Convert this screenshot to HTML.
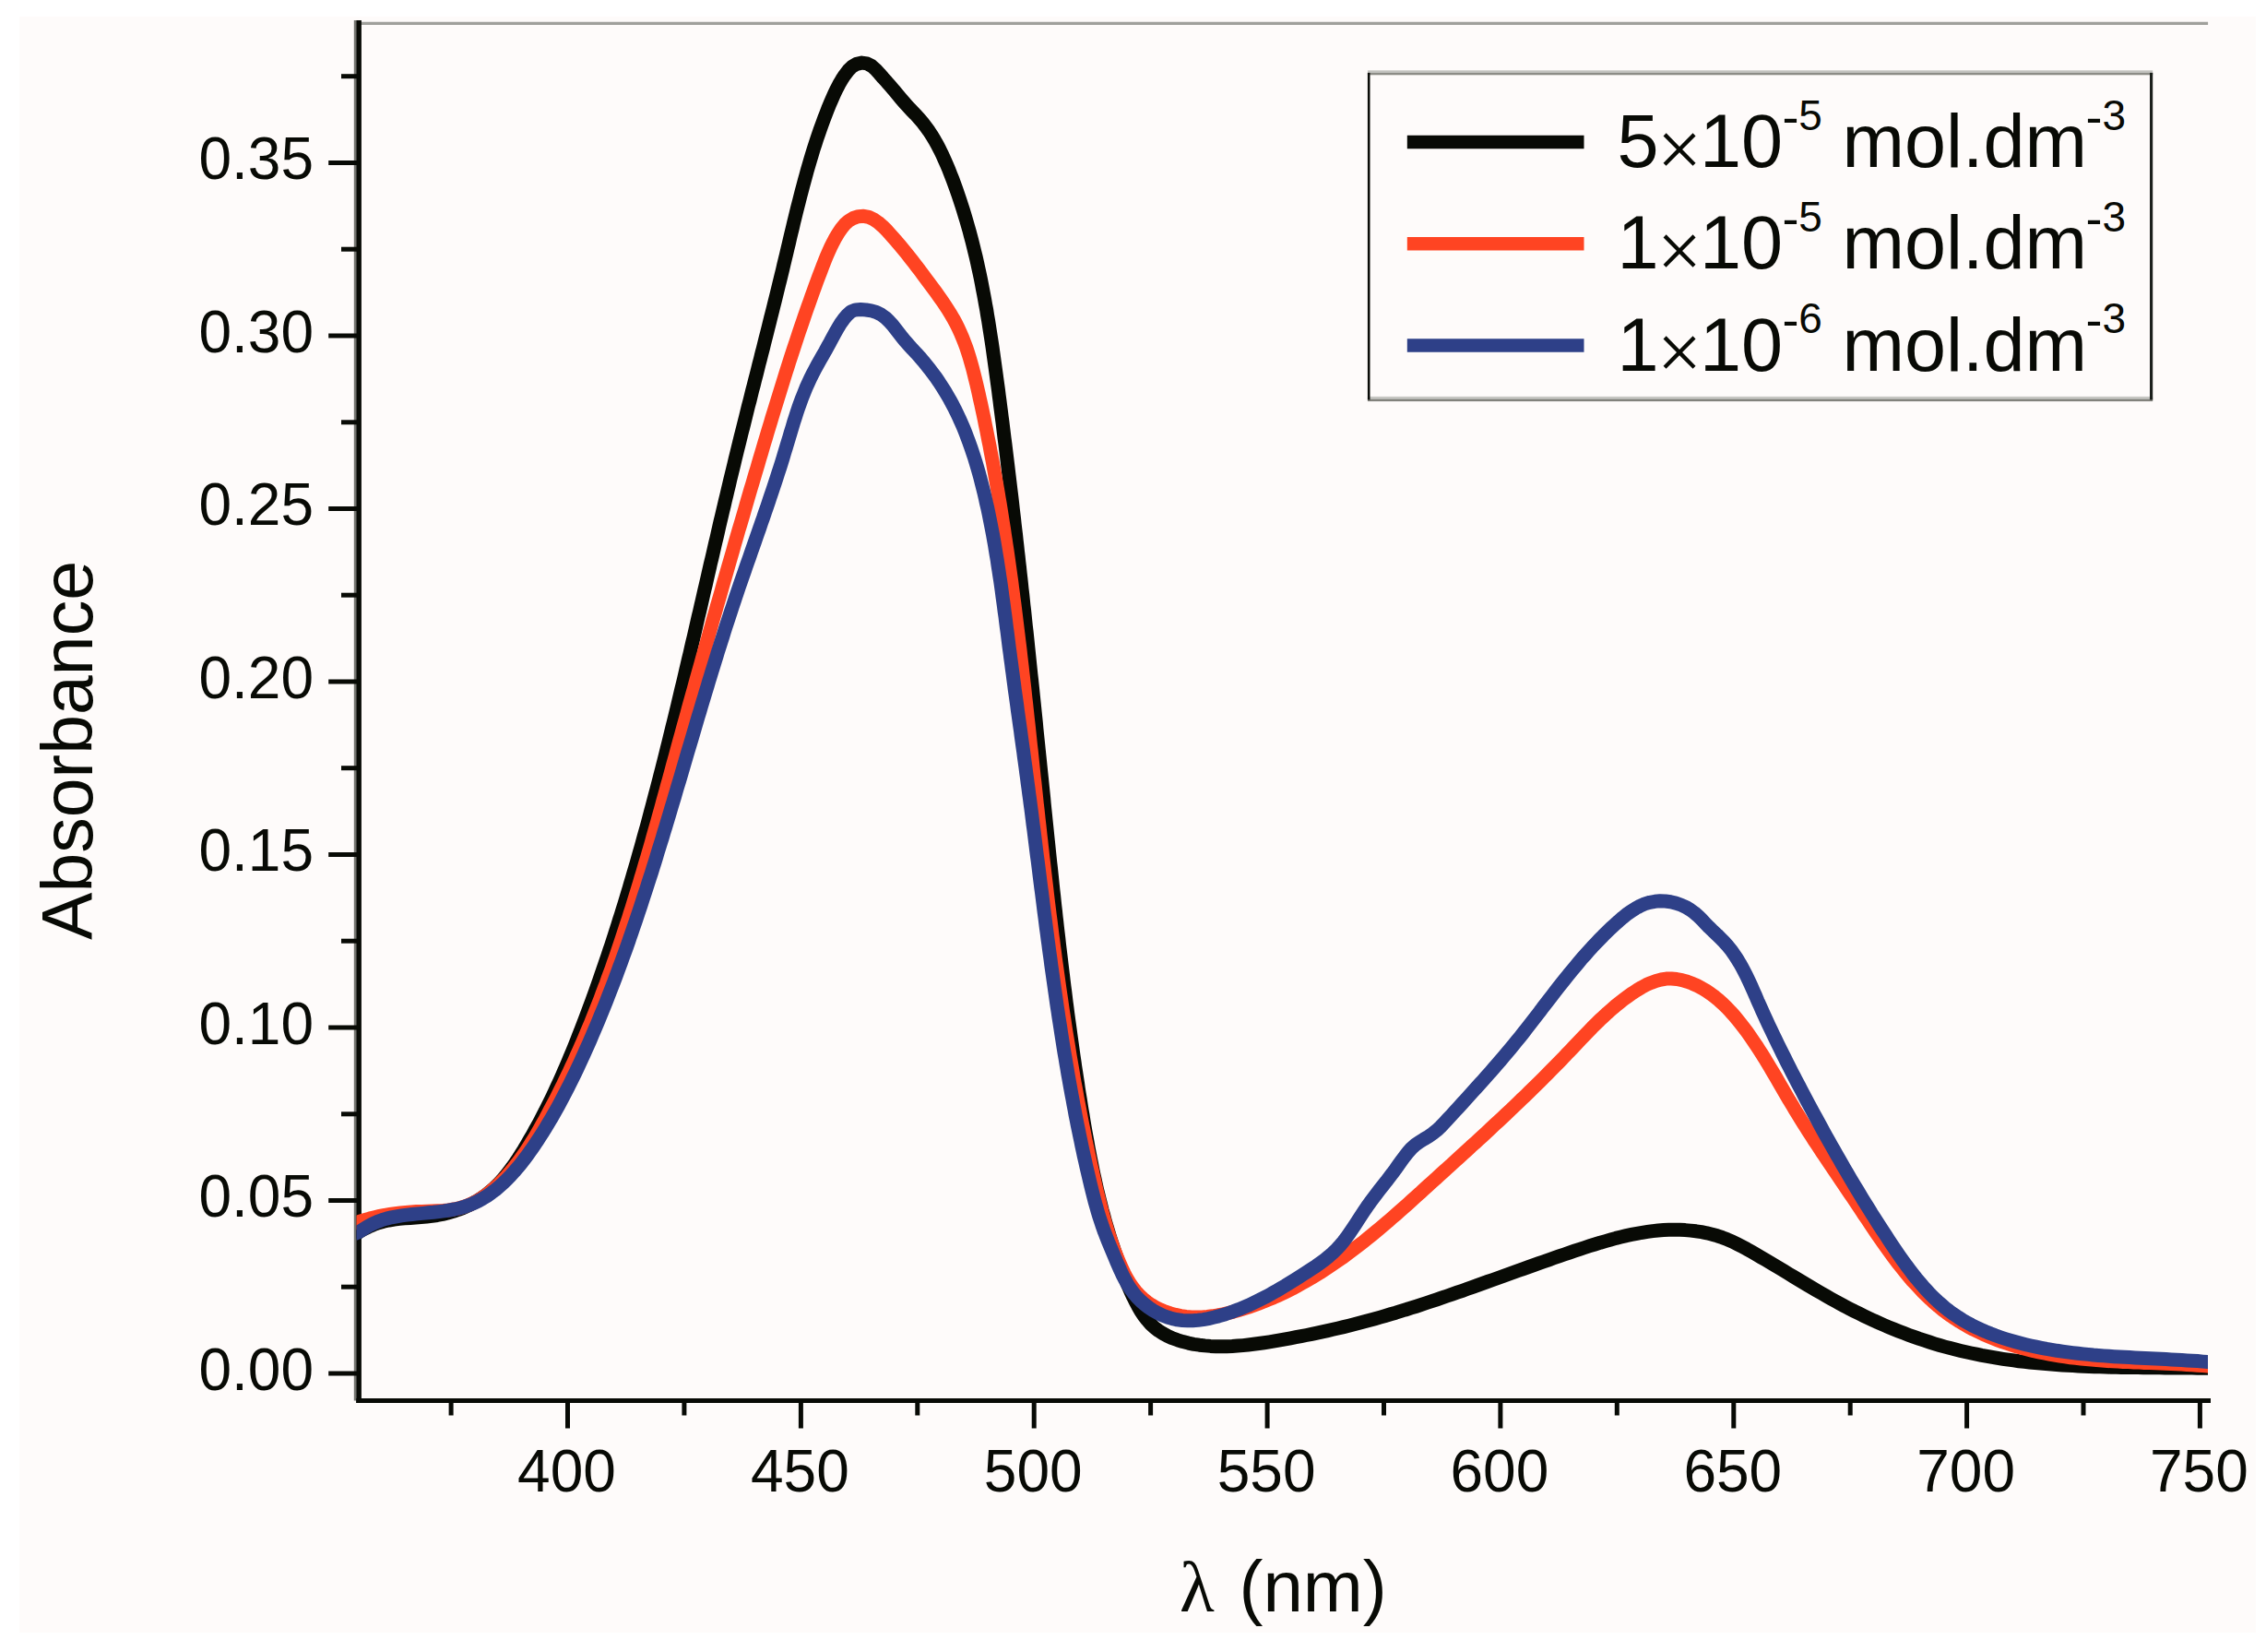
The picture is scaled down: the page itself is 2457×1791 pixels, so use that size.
<!DOCTYPE html>
<html lang="en">
<head>
<meta charset="utf-8">
<title>Absorbance spectra</title>
<style>
html,body{margin:0;padding:0;background:#ffffff;}
body{width:2457px;height:1791px;overflow:hidden;}
svg{display:block;}
</style>
</head>
<body>
<svg width="2457" height="1791" viewBox="0 0 2457 1791">
<rect x="0" y="0" width="2457" height="1791" fill="#ffffff"/>
<rect x="21" y="18" width="2425" height="1752" fill="#fefbfa"/>
<line x1="391" y1="25.45" x2="2394.1" y2="25.45" stroke="#a0a09b" stroke-width="3.3"/>
<rect x="383.8" y="22" width="2.6" height="1496.5" fill="#74746f"/>
<g stroke="#080a05" fill="none">
<line x1="389.1" y1="22" x2="389.1" y2="1521" stroke-width="5.6"/>
<line x1="386.3" y1="1518.55" x2="2397" y2="1518.55" stroke-width="4.9"/>
</g>
<clipPath id="pc"><rect x="386.5" y="27" width="2007.5" height="1488"/></clipPath>
<g clip-path="url(#pc)" fill="none" stroke-width="15" stroke-linejoin="round" stroke-linecap="butt">
<path d="M384.0,1339.1 L388.9,1335.9 L394.0,1332.9 L399.3,1330.2 L404.8,1327.8 L410.3,1325.8 L415.9,1324.2 L421.6,1323.0 L427.3,1322.0 L433.1,1321.3 L438.9,1320.8 L444.8,1320.4 L450.6,1320.0 L456.5,1319.6 L462.4,1319.1 L468.2,1318.4 L474.1,1317.5 L479.9,1316.4 L485.6,1315.0 L491.3,1313.4 L496.9,1311.5 L502.3,1309.4 L507.7,1307.0 L512.9,1304.4 L518.0,1301.6 L522.8,1298.4 L527.5,1295.1 L532.0,1291.4 L536.3,1287.6 L540.4,1283.5 L544.3,1279.3 L548.1,1274.9 L551.8,1270.3 L555.3,1265.6 L558.7,1260.8 L562.0,1255.9 L565.2,1250.9 L568.3,1245.9 L571.3,1240.8 L574.3,1235.6 L577.3,1230.5 L580.1,1225.3 L583.0,1220.2 L585.8,1214.9 L588.5,1209.7 L591.2,1204.5 L593.8,1199.2 L596.4,1194.0 L599.0,1188.7 L601.5,1183.4 L604.0,1178.0 L606.5,1172.7 L608.9,1167.4 L611.2,1162.0 L613.6,1156.6 L615.9,1151.2 L618.1,1145.8 L620.4,1140.4 L622.6,1135.0 L624.8,1129.6 L626.9,1124.1 L629.1,1118.7 L631.2,1113.2 L633.3,1107.8 L635.4,1102.3 L637.4,1096.8 L639.5,1091.3 L641.5,1085.9 L643.5,1080.4 L645.5,1074.9 L647.4,1069.4 L649.4,1063.8 L651.3,1058.3 L653.2,1052.8 L655.1,1047.3 L657.0,1041.7 L658.9,1036.2 L660.7,1030.7 L662.6,1025.1 L664.4,1019.6 L666.2,1014.0 L668.0,1008.4 L669.8,1002.9 L671.5,997.3 L673.3,991.7 L675.0,986.1 L676.8,980.5 L678.5,974.9 L680.2,969.3 L681.9,963.7 L683.5,958.1 L685.2,952.5 L686.8,946.9 L688.5,941.3 L690.1,935.7 L691.7,930.0 L693.3,924.4 L694.9,918.8 L696.5,913.1 L698.0,907.5 L699.6,901.9 L701.2,896.2 L702.7,890.6 L704.2,884.9 L705.7,879.2 L707.2,873.6 L708.7,867.9 L710.2,862.3 L711.7,856.6 L713.2,850.9 L714.7,845.2 L716.1,839.6 L717.6,833.9 L719.0,828.2 L720.5,822.5 L721.9,816.8 L723.3,811.1 L724.7,805.5 L726.1,799.8 L727.5,794.1 L728.9,788.4 L730.3,782.7 L731.7,777.0 L733.1,771.3 L734.5,765.6 L735.8,759.9 L737.2,754.1 L738.5,748.4 L739.9,742.7 L741.3,737.0 L742.6,731.3 L743.9,725.6 L745.3,719.9 L746.6,714.2 L748.0,708.5 L749.3,702.7 L750.6,697.0 L752.0,691.3 L753.3,685.6 L754.6,679.9 L755.9,674.1 L757.2,668.4 L758.6,662.7 L759.9,657.0 L761.2,651.3 L762.5,645.6 L763.8,639.8 L765.2,634.1 L766.5,628.4 L767.8,622.7 L769.1,617.0 L770.4,611.2 L771.8,605.5 L773.1,599.8 L774.4,594.1 L775.7,588.4 L777.1,582.7 L778.4,577.0 L779.7,571.2 L781.0,565.5 L782.4,559.8 L783.7,554.1 L785.1,548.4 L786.4,542.7 L787.8,537.0 L789.1,531.3 L790.5,525.6 L791.8,519.9 L793.2,514.2 L794.6,508.5 L796.0,502.8 L797.3,497.1 L798.7,491.5 L800.1,485.8 L801.5,480.1 L802.9,474.4 L804.3,468.7 L805.8,463.0 L807.2,457.4 L808.6,451.7 L810.0,446.0 L811.4,440.3 L812.9,434.7 L814.3,429.0 L815.7,423.3 L817.2,417.7 L818.6,412.0 L820.1,406.3 L821.5,400.7 L822.9,395.0 L824.4,389.3 L825.8,383.6 L827.3,378.0 L828.7,372.3 L830.1,366.6 L831.6,360.9 L833.0,355.3 L834.4,349.6 L835.8,343.9 L837.3,338.2 L838.7,332.5 L840.1,326.9 L841.5,321.2 L842.9,315.5 L844.3,309.8 L845.7,304.1 L847.1,298.4 L848.5,292.7 L849.8,287.0 L851.2,281.2 L852.6,275.5 L853.9,269.8 L855.3,264.1 L856.6,258.4 L858.0,252.6 L859.4,246.9 L860.7,241.2 L862.1,235.5 L863.5,229.8 L864.9,224.1 L866.4,218.4 L867.8,212.7 L869.3,207.0 L870.8,201.3 L872.3,195.7 L873.9,190.0 L875.4,184.4 L877.1,178.7 L878.7,173.1 L880.4,167.5 L882.1,161.9 L883.9,156.4 L885.7,150.8 L887.6,145.3 L889.5,139.8 L891.5,134.3 L893.5,128.8 L895.6,123.4 L897.7,117.9 L899.9,112.5 L902.2,107.2 L904.6,101.8 L907.1,96.6 L909.8,91.3 L912.8,86.2 L916.1,81.2 L919.7,76.4 L923.9,72.2 L928.9,69.3 L934.4,68.1 L940.0,68.9 L945.1,71.5 L949.6,75.5 L953.7,80.0 L957.6,84.5 L961.5,88.8 L965.3,93.2 L969.1,97.6 L972.8,102.1 L976.6,106.6 L980.4,111.0 L984.3,115.4 L988.4,119.7 L992.5,123.9 L996.4,128.3 L1000.2,132.7 L1003.8,137.3 L1007.2,142.0 L1010.4,146.9 L1013.4,151.9 L1016.3,157.0 L1019.0,162.2 L1021.6,167.5 L1024.0,172.8 L1026.4,178.2 L1028.7,183.6 L1030.8,189.1 L1033.0,194.6 L1035.0,200.1 L1037.0,205.6 L1038.9,211.2 L1040.8,216.7 L1042.6,222.3 L1044.4,227.9 L1046.1,233.5 L1047.8,239.1 L1049.4,244.7 L1051.0,250.3 L1052.5,256.0 L1054.0,261.6 L1055.4,267.3 L1056.8,273.0 L1058.2,278.6 L1059.5,284.3 L1060.7,290.1 L1062.0,295.8 L1063.2,301.5 L1064.3,307.2 L1065.4,313.0 L1066.5,318.7 L1067.6,324.5 L1068.6,330.2 L1069.7,336.0 L1070.6,341.8 L1071.6,347.6 L1072.5,353.4 L1073.4,359.2 L1074.3,364.9 L1075.2,370.7 L1076.1,376.6 L1076.9,382.4 L1077.7,388.2 L1078.5,394.0 L1079.3,399.8 L1080.1,405.6 L1080.9,411.4 L1081.7,417.3 L1082.5,423.1 L1083.2,428.9 L1084.0,434.7 L1084.7,440.5 L1085.5,446.4 L1086.2,452.2 L1087.0,458.0 L1087.7,463.8 L1088.4,469.6 L1089.1,475.4 L1089.9,481.3 L1090.6,487.1 L1091.3,492.9 L1092.0,498.7 L1092.7,504.5 L1093.4,510.4 L1094.1,516.2 L1094.8,522.0 L1095.5,527.8 L1096.2,533.6 L1096.9,539.5 L1097.6,545.3 L1098.2,551.1 L1098.9,556.9 L1099.6,562.7 L1100.2,568.6 L1100.9,574.4 L1101.6,580.2 L1102.2,586.0 L1102.9,591.8 L1103.5,597.7 L1104.2,603.5 L1104.8,609.3 L1105.5,615.1 L1106.1,621.0 L1106.8,626.8 L1107.4,632.6 L1108.0,638.4 L1108.7,644.2 L1109.3,650.1 L1109.9,655.9 L1110.6,661.7 L1111.2,667.5 L1111.8,673.4 L1112.4,679.2 L1113.1,685.0 L1113.7,690.8 L1114.3,696.6 L1114.9,702.5 L1115.5,708.3 L1116.1,714.1 L1116.7,719.9 L1117.3,725.8 L1117.9,731.6 L1118.6,737.4 L1119.2,743.2 L1119.8,749.1 L1120.4,754.9 L1121.0,760.7 L1121.6,766.5 L1122.2,772.4 L1122.8,778.2 L1123.4,784.0 L1123.9,789.9 L1124.5,795.7 L1125.1,801.5 L1125.7,807.3 L1126.3,813.2 L1126.9,819.0 L1127.5,824.8 L1128.1,830.7 L1128.7,836.5 L1129.3,842.3 L1129.9,848.1 L1130.5,854.0 L1131.1,859.8 L1131.7,865.6 L1132.2,871.5 L1132.8,877.3 L1133.4,883.1 L1134.0,889.0 L1134.6,894.8 L1135.2,900.6 L1135.8,906.5 L1136.4,912.3 L1137.0,918.1 L1137.6,924.0 L1138.2,929.8 L1138.8,935.6 L1139.5,941.5 L1140.1,947.3 L1140.7,953.1 L1141.3,959.0 L1141.9,964.8 L1142.6,970.6 L1143.2,976.4 L1143.8,982.3 L1144.5,988.1 L1145.1,993.9 L1145.8,999.8 L1146.4,1005.6 L1147.1,1011.4 L1147.8,1017.2 L1148.4,1023.1 L1149.1,1028.9 L1149.8,1034.7 L1150.5,1040.5 L1151.2,1046.4 L1151.9,1052.2 L1152.6,1058.0 L1153.3,1063.8 L1154.0,1069.6 L1154.8,1075.4 L1155.5,1081.3 L1156.2,1087.1 L1157.0,1092.9 L1157.7,1098.7 L1158.5,1104.5 L1159.3,1110.3 L1160.1,1116.1 L1160.9,1121.9 L1161.7,1127.7 L1162.5,1133.5 L1163.3,1139.3 L1164.1,1145.1 L1165.0,1150.9 L1165.8,1156.7 L1166.7,1162.5 L1167.6,1168.3 L1168.5,1174.1 L1169.3,1179.9 L1170.2,1185.7 L1171.2,1191.5 L1172.1,1197.3 L1173.0,1203.1 L1174.0,1208.8 L1174.9,1214.6 L1175.9,1220.4 L1176.9,1226.2 L1177.9,1231.9 L1179.0,1237.7 L1180.0,1243.5 L1181.1,1249.2 L1182.2,1255.0 L1183.4,1260.7 L1184.5,1266.4 L1185.7,1272.2 L1187.0,1277.9 L1188.2,1283.6 L1189.5,1289.3 L1190.9,1295.0 L1192.3,1300.7 L1193.7,1306.3 L1195.1,1312.0 L1196.7,1317.6 L1198.2,1323.3 L1199.8,1328.9 L1201.5,1334.5 L1203.2,1340.1 L1205.0,1345.7 L1206.8,1351.2 L1208.7,1356.8 L1210.7,1362.3 L1212.7,1367.9 L1214.8,1373.4 L1216.9,1378.9 L1219.1,1384.3 L1221.4,1389.8 L1223.8,1395.2 L1226.2,1400.6 L1228.7,1406.0 L1231.3,1411.3 L1234.1,1416.5 L1237.0,1421.6 L1240.2,1426.4 L1243.7,1430.9 L1247.5,1435.2 L1251.6,1439.1 L1256.0,1442.5 L1260.9,1445.6 L1266.0,1448.4 L1271.3,1450.8 L1276.9,1452.8 L1282.6,1454.6 L1288.5,1456.1 L1294.4,1457.3 L1300.4,1458.2 L1306.5,1458.9 L1312.5,1459.4 L1318.4,1459.7 L1324.3,1459.8 L1330.2,1459.7 L1336.0,1459.5 L1341.8,1459.1 L1347.6,1458.6 L1353.4,1458.0 L1359.1,1457.3 L1364.9,1456.5 L1370.6,1455.7 L1376.4,1454.8 L1382.1,1453.8 L1387.9,1452.8 L1393.6,1451.8 L1399.3,1450.8 L1405.1,1449.7 L1410.8,1448.6 L1416.6,1447.5 L1422.3,1446.3 L1428.1,1445.1 L1433.8,1443.9 L1439.6,1442.6 L1445.3,1441.3 L1451.0,1440.0 L1456.8,1438.6 L1462.5,1437.2 L1468.2,1435.8 L1473.9,1434.3 L1479.5,1432.8 L1485.2,1431.3 L1490.9,1429.7 L1496.5,1428.1 L1502.2,1426.5 L1507.8,1424.8 L1513.4,1423.2 L1519.0,1421.4 L1524.6,1419.7 L1530.2,1417.9 L1535.8,1416.2 L1541.3,1414.4 L1546.9,1412.5 L1552.5,1410.7 L1558.0,1408.8 L1563.5,1406.9 L1569.1,1405.0 L1574.6,1403.1 L1580.1,1401.2 L1585.7,1399.3 L1591.2,1397.3 L1596.7,1395.4 L1602.2,1393.4 L1607.7,1391.4 L1613.2,1389.4 L1618.7,1387.5 L1624.3,1385.5 L1629.8,1383.5 L1635.3,1381.5 L1640.8,1379.5 L1646.3,1377.5 L1651.8,1375.6 L1657.3,1373.6 L1662.9,1371.6 L1668.4,1369.7 L1673.9,1367.7 L1679.4,1365.8 L1685.0,1363.8 L1690.5,1361.9 L1696.1,1360.0 L1701.6,1358.1 L1707.2,1356.2 L1712.8,1354.4 L1718.4,1352.5 L1723.9,1350.7 L1729.5,1349.0 L1735.2,1347.2 L1740.8,1345.6 L1746.4,1344.0 L1752.1,1342.4 L1757.7,1341.0 L1763.4,1339.6 L1769.1,1338.4 L1774.8,1337.3 L1780.6,1336.3 L1786.4,1335.4 L1792.1,1334.6 L1797.9,1334.0 L1803.8,1333.6 L1809.6,1333.3 L1815.5,1333.2 L1821.4,1333.3 L1827.3,1333.6 L1833.2,1334.1 L1839.1,1334.8 L1844.9,1335.7 L1850.7,1336.8 L1856.4,1338.2 L1862.1,1339.8 L1867.6,1341.7 L1873.1,1343.8 L1878.5,1346.1 L1883.7,1348.7 L1888.9,1351.4 L1894.1,1354.2 L1899.2,1357.1 L1904.3,1360.0 L1909.3,1362.9 L1914.4,1365.9 L1919.4,1368.9 L1924.4,1371.9 L1929.5,1374.9 L1934.5,1377.9 L1939.5,1381.0 L1944.5,1384.0 L1949.5,1387.0 L1954.5,1390.0 L1959.5,1393.0 L1964.6,1396.0 L1969.6,1398.9 L1974.7,1401.9 L1979.7,1404.8 L1984.8,1407.7 L1989.9,1410.5 L1995.1,1413.3 L2000.2,1416.1 L2005.4,1418.8 L2010.6,1421.5 L2015.9,1424.1 L2021.2,1426.7 L2026.5,1429.2 L2031.8,1431.7 L2037.2,1434.1 L2042.6,1436.5 L2048.0,1438.8 L2053.4,1441.0 L2058.9,1443.2 L2064.4,1445.3 L2069.9,1447.4 L2075.4,1449.4 L2081.0,1451.4 L2086.5,1453.2 L2092.1,1455.0 L2097.7,1456.8 L2103.3,1458.5 L2109.0,1460.1 L2114.6,1461.6 L2120.3,1463.1 L2126.0,1464.5 L2131.7,1465.8 L2137.4,1467.0 L2143.1,1468.2 L2148.8,1469.4 L2154.6,1470.4 L2160.3,1471.4 L2166.1,1472.4 L2171.8,1473.3 L2177.6,1474.1 L2183.4,1474.9 L2189.2,1475.7 L2195.0,1476.3 L2200.8,1477.0 L2206.7,1477.6 L2212.5,1478.1 L2218.3,1478.6 L2224.2,1479.1 L2230.0,1479.5 L2235.9,1479.9 L2241.7,1480.3 L2247.6,1480.6 L2253.4,1480.9 L2259.3,1481.2 L2265.2,1481.4 L2271.1,1481.7 L2276.9,1481.8 L2282.8,1482.0 L2288.7,1482.2 L2294.6,1482.3 L2300.4,1482.4 L2306.3,1482.5 L2312.2,1482.6 L2318.1,1482.6 L2324.0,1482.7 L2329.8,1482.8 L2335.7,1482.8 L2341.6,1482.8 L2347.4,1482.9 L2353.3,1482.9 L2359.1,1483.0 L2365.0,1483.0 L2370.8,1483.0 L2376.7,1483.1 L2382.5,1483.2 L2388.3,1483.2 L2394.1,1483.3 L2400.0,1483.4" stroke="#080a05"/>
<path d="M383.9,1326.5 L389.5,1324.5 L395.1,1322.7 L400.6,1321.1 L406.2,1319.7 L411.8,1318.4 L417.3,1317.3 L422.9,1316.4 L428.5,1315.6 L434.2,1314.9 L439.9,1314.4 L445.6,1313.9 L451.3,1313.6 L457.2,1313.4 L463.0,1313.3 L468.9,1313.1 L474.7,1312.8 L480.6,1312.5 L486.3,1311.9 L492.0,1311.0 L497.6,1309.9 L503.0,1308.3 L508.3,1306.4 L513.4,1304.0 L518.4,1301.3 L523.2,1298.2 L527.9,1294.9 L532.4,1291.3 L536.8,1287.5 L541.1,1283.6 L545.1,1279.5 L549.1,1275.3 L552.9,1270.9 L556.6,1266.5 L560.2,1262.0 L563.6,1257.4 L567.0,1252.7 L570.3,1248.0 L573.4,1243.2 L576.5,1238.3 L579.6,1233.4 L582.5,1228.4 L585.4,1223.4 L588.3,1218.3 L591.1,1213.3 L593.8,1208.2 L596.5,1203.1 L599.2,1198.0 L601.9,1192.9 L604.5,1187.8 L607.1,1182.6 L609.7,1177.5 L612.2,1172.3 L614.7,1167.1 L617.2,1161.9 L619.6,1156.7 L622.1,1151.5 L624.4,1146.2 L626.8,1141.0 L629.1,1135.7 L631.4,1130.5 L633.7,1125.2 L635.9,1119.9 L638.2,1114.6 L640.4,1109.3 L642.5,1104.0 L644.7,1098.6 L646.8,1093.3 L648.9,1088.0 L651.0,1082.6 L653.0,1077.2 L655.0,1071.8 L657.1,1066.5 L659.0,1061.1 L661.0,1055.7 L663.0,1050.3 L664.9,1044.8 L666.8,1039.4 L668.7,1034.0 L670.5,1028.5 L672.4,1023.1 L674.2,1017.6 L676.0,1012.2 L677.8,1006.7 L679.6,1001.2 L681.4,995.8 L683.1,990.3 L684.9,984.8 L686.6,979.3 L688.3,973.8 L690.0,968.3 L691.7,962.8 L693.4,957.2 L695.0,951.7 L696.7,946.2 L698.3,940.7 L699.9,935.1 L701.6,929.6 L703.2,924.0 L704.8,918.5 L706.4,913.0 L707.9,907.4 L709.5,901.9 L711.1,896.3 L712.7,890.7 L714.2,885.2 L715.8,879.6 L717.3,874.1 L718.8,868.5 L720.4,862.9 L721.9,857.4 L723.4,851.8 L725.0,846.2 L726.5,840.6 L728.0,835.1 L729.5,829.5 L731.1,823.9 L732.6,818.4 L734.1,812.8 L735.6,807.2 L737.1,801.7 L738.7,796.1 L740.2,790.5 L741.7,785.0 L743.3,779.4 L744.8,773.9 L746.3,768.3 L747.8,762.7 L749.4,757.2 L750.9,751.6 L752.5,746.1 L754.0,740.5 L755.5,735.0 L757.1,729.4 L758.6,723.9 L760.2,718.3 L761.7,712.8 L763.3,707.2 L764.8,701.7 L766.4,696.1 L768.0,690.6 L769.5,685.0 L771.1,679.5 L772.6,673.9 L774.2,668.4 L775.8,662.9 L777.3,657.3 L778.9,651.8 L780.5,646.3 L782.1,640.7 L783.6,635.2 L785.2,629.6 L786.8,624.1 L788.4,618.6 L790.0,613.0 L791.6,607.5 L793.2,602.0 L794.8,596.5 L796.3,590.9 L797.9,585.4 L799.5,579.9 L801.1,574.3 L802.8,568.8 L804.4,563.3 L806.0,557.8 L807.6,552.2 L809.2,546.7 L810.8,541.2 L812.4,535.7 L814.0,530.2 L815.7,524.6 L817.3,519.1 L818.9,513.6 L820.6,508.1 L822.2,502.6 L823.8,497.0 L825.5,491.5 L827.1,486.0 L828.7,480.5 L830.4,475.0 L832.0,469.5 L833.7,463.9 L835.4,458.4 L837.0,452.9 L838.7,447.4 L840.4,441.9 L842.1,436.4 L843.8,430.9 L845.5,425.4 L847.2,419.9 L848.9,414.4 L850.6,408.9 L852.3,403.4 L854.1,397.9 L855.8,392.4 L857.6,386.9 L859.4,381.4 L861.2,375.9 L863.0,370.5 L864.8,365.0 L866.6,359.5 L868.5,354.0 L870.4,348.6 L872.2,343.1 L874.1,337.6 L876.0,332.2 L878.0,326.7 L879.9,321.3 L881.9,315.8 L883.8,310.4 L885.8,305.0 L887.8,299.6 L889.9,294.2 L891.9,288.9 L894.0,283.6 L896.1,278.3 L898.4,273.0 L900.7,267.9 L903.3,262.7 L906.0,257.6 L909.0,252.6 L912.3,247.7 L916.0,243.2 L920.3,239.4 L925.2,236.5 L930.7,234.7 L936.5,234.3 L942.0,235.4 L947.2,237.8 L952.1,241.1 L956.6,244.9 L960.7,248.9 L964.6,253.2 L968.4,257.5 L972.2,261.8 L975.9,266.2 L979.5,270.6 L983.2,275.1 L986.7,279.5 L990.3,284.0 L993.8,288.6 L997.3,293.1 L1000.7,297.7 L1004.2,302.4 L1007.6,307.0 L1011.1,311.7 L1014.5,316.3 L1017.9,321.1 L1021.3,325.8 L1024.5,330.6 L1027.7,335.5 L1030.8,340.4 L1033.7,345.4 L1036.4,350.4 L1039.0,355.6 L1041.4,360.8 L1043.6,366.0 L1045.7,371.4 L1047.7,376.7 L1049.5,382.2 L1051.2,387.6 L1052.8,393.1 L1054.4,398.7 L1055.8,404.3 L1057.2,409.9 L1058.6,415.5 L1059.9,421.1 L1061.2,426.7 L1062.4,432.4 L1063.7,438.0 L1064.9,443.6 L1066.1,449.3 L1067.3,454.9 L1068.4,460.6 L1069.6,466.2 L1070.7,471.9 L1071.8,477.5 L1073.0,483.2 L1074.0,488.9 L1075.1,494.5 L1076.2,500.2 L1077.2,505.8 L1078.2,511.5 L1079.2,517.2 L1080.2,522.8 L1081.2,528.5 L1082.2,534.2 L1083.1,539.9 L1084.1,545.6 L1085.0,551.2 L1085.9,556.9 L1086.8,562.6 L1087.7,568.3 L1088.6,574.0 L1089.4,579.7 L1090.3,585.4 L1091.1,591.0 L1092.0,596.7 L1092.8,602.4 L1093.6,608.1 L1094.4,613.8 L1095.2,619.5 L1096.0,625.2 L1096.8,630.9 L1097.5,636.6 L1098.3,642.4 L1099.0,648.1 L1099.8,653.8 L1100.5,659.5 L1101.2,665.2 L1101.9,670.9 L1102.6,676.6 L1103.3,682.3 L1104.0,688.0 L1104.7,693.8 L1105.4,699.5 L1106.1,705.2 L1106.7,710.9 L1107.4,716.6 L1108.1,722.4 L1108.7,728.1 L1109.4,733.8 L1110.0,739.5 L1110.7,745.3 L1111.3,751.0 L1111.9,756.7 L1112.6,762.4 L1113.2,768.2 L1113.8,773.9 L1114.4,779.6 L1115.1,785.4 L1115.7,791.1 L1116.3,796.8 L1116.9,802.6 L1117.5,808.3 L1118.2,814.0 L1118.8,819.8 L1119.4,825.5 L1120.0,831.2 L1120.6,837.0 L1121.2,842.7 L1121.9,848.4 L1122.5,854.2 L1123.1,859.9 L1123.7,865.6 L1124.3,871.4 L1125.0,877.1 L1125.6,882.8 L1126.2,888.6 L1126.9,894.3 L1127.5,900.0 L1128.1,905.8 L1128.8,911.5 L1129.4,917.3 L1130.1,923.0 L1130.7,928.7 L1131.4,934.5 L1132.1,940.2 L1132.7,945.9 L1133.4,951.6 L1134.1,957.4 L1134.8,963.1 L1135.4,968.8 L1136.1,974.6 L1136.8,980.3 L1137.5,986.0 L1138.2,991.7 L1139.0,997.5 L1139.7,1003.2 L1140.4,1008.9 L1141.1,1014.6 L1141.9,1020.3 L1142.6,1026.1 L1143.4,1031.8 L1144.1,1037.5 L1144.9,1043.2 L1145.7,1048.9 L1146.5,1054.6 L1147.3,1060.3 L1148.1,1066.0 L1148.9,1071.7 L1149.7,1077.4 L1150.6,1083.1 L1151.4,1088.8 L1152.2,1094.5 L1153.1,1100.2 L1154.0,1105.9 L1154.8,1111.6 L1155.7,1117.3 L1156.6,1123.0 L1157.6,1128.7 L1158.5,1134.3 L1159.4,1140.0 L1160.3,1145.7 L1161.3,1151.4 L1162.3,1157.0 L1163.3,1162.7 L1164.2,1168.4 L1165.2,1174.0 L1166.3,1179.7 L1167.3,1185.3 L1168.3,1191.0 L1169.4,1196.6 L1170.5,1202.3 L1171.5,1207.9 L1172.6,1213.6 L1173.7,1219.2 L1174.9,1224.8 L1176.0,1230.5 L1177.1,1236.1 L1178.3,1241.7 L1179.5,1247.3 L1180.7,1253.0 L1181.9,1258.6 L1183.1,1264.2 L1184.4,1269.8 L1185.6,1275.4 L1186.9,1281.0 L1188.2,1286.6 L1189.5,1292.2 L1190.9,1297.7 L1192.3,1303.3 L1193.7,1308.9 L1195.2,1314.5 L1196.7,1320.0 L1198.3,1325.5 L1200.0,1331.1 L1201.7,1336.6 L1203.6,1342.1 L1205.5,1347.6 L1207.4,1353.1 L1209.5,1358.6 L1211.7,1364.0 L1214.0,1369.4 L1216.4,1374.8 L1218.9,1380.2 L1221.6,1385.4 L1224.6,1390.4 L1227.8,1395.2 L1231.3,1399.7 L1235.1,1403.9 L1239.2,1407.8 L1243.6,1411.4 L1248.3,1414.6 L1253.2,1417.4 L1258.4,1419.9 L1263.7,1422.1 L1269.1,1423.9 L1274.7,1425.4 L1280.4,1426.6 L1286.1,1427.4 L1291.8,1427.9 L1297.5,1428.0 L1303.2,1427.9 L1309.0,1427.5 L1314.7,1426.8 L1320.4,1425.9 L1326.1,1424.8 L1331.7,1423.5 L1337.4,1422.1 L1343.0,1420.5 L1348.5,1418.8 L1354.0,1417.1 L1359.5,1415.2 L1364.9,1413.2 L1370.3,1411.1 L1375.6,1408.9 L1380.9,1406.7 L1386.2,1404.3 L1391.4,1401.9 L1396.5,1399.4 L1401.7,1396.8 L1406.7,1394.1 L1411.8,1391.3 L1416.8,1388.5 L1421.8,1385.6 L1426.7,1382.6 L1431.6,1379.6 L1436.4,1376.5 L1441.2,1373.3 L1446.0,1370.1 L1450.7,1366.9 L1455.4,1363.6 L1460.0,1360.2 L1464.6,1356.8 L1469.2,1353.3 L1473.8,1349.8 L1478.3,1346.3 L1482.8,1342.7 L1487.2,1339.1 L1491.7,1335.4 L1496.1,1331.7 L1500.5,1328.0 L1504.9,1324.3 L1509.2,1320.5 L1513.6,1316.7 L1517.9,1312.9 L1522.2,1309.1 L1526.5,1305.3 L1530.8,1301.4 L1535.1,1297.5 L1539.4,1293.7 L1543.6,1289.8 L1547.9,1285.9 L1552.2,1282.0 L1556.5,1278.2 L1560.7,1274.3 L1565.0,1270.4 L1569.3,1266.5 L1573.5,1262.7 L1577.8,1258.8 L1582.1,1254.9 L1586.3,1251.0 L1590.6,1247.1 L1594.8,1243.2 L1599.1,1239.4 L1603.3,1235.5 L1607.6,1231.6 L1611.8,1227.7 L1616.0,1223.7 L1620.2,1219.8 L1624.5,1215.9 L1628.7,1212.0 L1632.9,1208.0 L1637.0,1204.1 L1641.2,1200.1 L1645.4,1196.1 L1649.5,1192.1 L1653.7,1188.2 L1657.8,1184.1 L1661.9,1180.1 L1666.0,1176.1 L1670.1,1172.1 L1674.2,1168.0 L1678.3,1163.9 L1682.3,1159.8 L1686.3,1155.7 L1690.4,1151.6 L1694.4,1147.5 L1698.3,1143.3 L1702.3,1139.2 L1706.3,1135.0 L1710.2,1130.8 L1714.2,1126.6 L1718.2,1122.5 L1722.2,1118.3 L1726.2,1114.2 L1730.3,1110.2 L1734.4,1106.1 L1738.6,1102.2 L1742.8,1098.3 L1747.1,1094.5 L1751.5,1090.7 L1756.0,1087.1 L1760.5,1083.5 L1765.2,1080.1 L1770.0,1076.7 L1774.9,1073.5 L1779.9,1070.5 L1785.0,1067.7 L1790.3,1065.4 L1795.6,1063.4 L1801.1,1062.0 L1806.7,1061.1 L1812.3,1061.0 L1818.1,1061.5 L1823.8,1062.6 L1829.5,1064.3 L1835.0,1066.3 L1840.3,1068.7 L1845.4,1071.4 L1850.3,1074.3 L1855.0,1077.5 L1859.6,1080.9 L1864.0,1084.6 L1868.2,1088.4 L1872.3,1092.4 L1876.3,1096.6 L1880.2,1100.9 L1883.9,1105.3 L1887.5,1109.9 L1891.0,1114.4 L1894.5,1119.1 L1897.9,1123.8 L1901.1,1128.6 L1904.4,1133.4 L1907.5,1138.2 L1910.6,1143.1 L1913.7,1148.0 L1916.7,1153.0 L1919.7,1158.0 L1922.6,1162.9 L1925.6,1167.9 L1928.5,1172.9 L1931.4,1177.9 L1934.3,1182.9 L1937.2,1187.9 L1940.1,1192.9 L1943.1,1197.8 L1946.0,1202.8 L1949.0,1207.7 L1952.0,1212.5 L1955.0,1217.4 L1958.1,1222.2 L1961.1,1227.0 L1964.2,1231.8 L1967.3,1236.6 L1970.5,1241.4 L1973.6,1246.1 L1976.7,1250.9 L1979.9,1255.6 L1983.1,1260.4 L1986.3,1265.1 L1989.5,1269.9 L1992.7,1274.6 L1995.9,1279.4 L1999.1,1284.1 L2002.3,1288.9 L2005.6,1293.7 L2008.8,1298.4 L2012.0,1303.2 L2015.3,1308.1 L2018.5,1312.9 L2021.7,1317.8 L2025.0,1322.6 L2028.3,1327.5 L2031.5,1332.3 L2034.8,1337.2 L2038.1,1342.0 L2041.5,1346.8 L2044.9,1351.6 L2048.3,1356.4 L2051.7,1361.1 L2055.2,1365.8 L2058.7,1370.4 L2062.3,1374.9 L2066.0,1379.4 L2069.7,1383.9 L2073.4,1388.3 L2077.3,1392.5 L2081.2,1396.7 L2085.1,1400.9 L2089.2,1404.9 L2093.3,1408.8 L2097.5,1412.6 L2101.8,1416.3 L2106.2,1419.9 L2110.7,1423.3 L2115.3,1426.6 L2120.0,1429.8 L2124.8,1432.9 L2129.7,1435.8 L2134.7,1438.6 L2139.7,1441.3 L2144.9,1443.8 L2150.1,1446.3 L2155.4,1448.6 L2160.7,1450.8 L2166.1,1452.9 L2171.5,1454.9 L2177.0,1456.7 L2182.6,1458.5 L2188.2,1460.2 L2193.8,1461.7 L2199.4,1463.2 L2205.1,1464.6 L2210.7,1465.8 L2216.4,1467.0 L2222.1,1468.1 L2227.8,1469.1 L2233.5,1470.0 L2239.2,1470.9 L2245.0,1471.7 L2250.7,1472.4 L2256.4,1473.0 L2262.1,1473.6 L2267.8,1474.1 L2273.5,1474.6 L2279.3,1475.0 L2285.0,1475.4 L2290.7,1475.8 L2296.4,1476.1 L2302.2,1476.4 L2307.9,1476.6 L2313.6,1476.9 L2319.4,1477.1 L2325.1,1477.4 L2330.9,1477.6 L2336.6,1477.8 L2342.4,1478.0 L2348.1,1478.3 L2353.9,1478.5 L2359.6,1478.8 L2365.4,1479.1 L2371.2,1479.4 L2376.9,1479.8 L2382.7,1480.2 L2388.5,1480.6 L2394.2,1481.1 L2400.0,1481.6" stroke="#ff4422"/>
<path d="M383.9,1337.9 L389.1,1335.6 L394.0,1332.6 L398.9,1329.5 L403.9,1326.8 L408.9,1324.6 L414.0,1322.7 L419.2,1321.1 L424.5,1319.8 L430.0,1318.8 L435.5,1317.9 L441.2,1317.1 L446.9,1316.5 L452.7,1315.9 L458.5,1315.4 L464.3,1314.8 L470.1,1314.3 L475.9,1313.6 L481.6,1312.9 L487.3,1312.0 L492.9,1311.0 L498.4,1309.7 L503.8,1308.2 L509.0,1306.4 L514.1,1304.3 L519.0,1301.9 L523.8,1299.2 L528.5,1296.3 L533.0,1293.1 L537.5,1289.7 L541.7,1286.1 L545.9,1282.4 L550.0,1278.4 L553.9,1274.3 L557.8,1270.0 L561.5,1265.7 L565.2,1261.2 L568.7,1256.6 L572.2,1251.9 L575.6,1247.2 L578.9,1242.4 L582.2,1237.6 L585.3,1232.8 L588.4,1227.9 L591.5,1223.0 L594.4,1218.1 L597.4,1213.2 L600.2,1208.3 L603.0,1203.3 L605.8,1198.3 L608.5,1193.3 L611.1,1188.3 L613.7,1183.3 L616.3,1178.3 L618.8,1173.2 L621.3,1168.1 L623.8,1163.1 L626.2,1158.0 L628.6,1152.9 L631.0,1147.7 L633.3,1142.6 L635.6,1137.4 L637.9,1132.3 L640.2,1127.1 L642.4,1121.9 L644.6,1116.8 L646.8,1111.6 L649.0,1106.3 L651.1,1101.1 L653.3,1095.9 L655.4,1090.7 L657.5,1085.4 L659.6,1080.1 L661.6,1074.9 L663.7,1069.6 L665.7,1064.3 L667.7,1059.0 L669.7,1053.7 L671.6,1048.4 L673.6,1043.1 L675.5,1037.8 L677.5,1032.4 L679.4,1027.1 L681.3,1021.8 L683.1,1016.4 L685.0,1011.0 L686.8,1005.7 L688.7,1000.3 L690.5,994.9 L692.3,989.5 L694.1,984.1 L695.9,978.7 L697.6,973.3 L699.4,967.9 L701.2,962.5 L702.9,957.1 L704.6,951.7 L706.4,946.3 L708.1,940.8 L709.8,935.4 L711.5,930.0 L713.1,924.5 L714.8,919.1 L716.5,913.6 L718.2,908.2 L719.8,902.7 L721.5,897.3 L723.1,891.8 L724.8,886.3 L726.4,880.9 L728.0,875.4 L729.7,869.9 L731.3,864.5 L732.9,859.0 L734.5,853.5 L736.2,848.1 L737.8,842.6 L739.4,837.1 L741.0,831.6 L742.6,826.2 L744.2,820.7 L745.8,815.2 L747.4,809.8 L749.1,804.3 L750.7,798.8 L752.3,793.3 L753.9,787.9 L755.5,782.4 L757.1,776.9 L758.8,771.5 L760.4,766.0 L762.0,760.6 L763.7,755.1 L765.3,749.6 L767.0,744.2 L768.6,738.7 L770.3,733.3 L771.9,727.8 L773.6,722.4 L775.3,717.0 L777.0,711.5 L778.6,706.1 L780.4,700.7 L782.1,695.3 L783.8,689.9 L785.5,684.4 L787.2,679.0 L789.0,673.6 L790.8,668.2 L792.5,662.9 L794.3,657.5 L796.1,652.1 L797.9,646.7 L799.7,641.4 L801.5,636.0 L803.4,630.6 L805.2,625.3 L807.1,619.9 L808.9,614.6 L810.8,609.3 L812.7,603.9 L814.5,598.6 L816.4,593.2 L818.3,587.9 L820.1,582.6 L822.0,577.2 L823.9,571.9 L825.7,566.5 L827.6,561.2 L829.4,555.8 L831.3,550.5 L833.1,545.1 L834.9,539.7 L836.7,534.4 L838.5,529.0 L840.3,523.6 L842.1,518.2 L843.8,512.8 L845.6,507.3 L847.3,501.9 L849.0,496.5 L850.6,491.0 L852.3,485.5 L853.9,480.1 L855.6,474.6 L857.2,469.1 L858.9,463.6 L860.5,458.2 L862.3,452.7 L864.0,447.3 L865.8,441.9 L867.7,436.6 L869.7,431.2 L871.8,426.0 L873.9,420.7 L876.2,415.6 L878.6,410.4 L881.1,405.4 L883.7,400.4 L886.4,395.4 L889.2,390.4 L892.0,385.5 L894.8,380.6 L897.5,375.6 L900.3,370.6 L903.0,365.5 L905.7,360.5 L908.5,355.6 L911.5,350.7 L914.8,346.1 L918.4,341.7 L922.5,337.9 L927.5,335.9 L933.2,335.6 L939.1,336.0 L944.8,336.9 L950.2,338.5 L955.3,341.0 L959.9,344.3 L964.0,348.2 L967.8,352.4 L971.3,356.9 L974.8,361.4 L978.3,365.9 L982.0,370.3 L985.7,374.5 L989.5,378.7 L993.4,382.8 L997.2,387.0 L1000.9,391.3 L1004.5,395.7 L1008.1,400.2 L1011.5,404.7 L1014.9,409.3 L1018.1,414.0 L1021.2,418.8 L1024.3,423.6 L1027.2,428.5 L1030.0,433.4 L1032.7,438.4 L1035.3,443.4 L1037.8,448.5 L1040.2,453.6 L1042.5,458.8 L1044.8,464.0 L1046.9,469.3 L1048.9,474.6 L1050.9,479.9 L1052.8,485.3 L1054.6,490.6 L1056.4,496.0 L1058.1,501.5 L1059.7,506.9 L1061.3,512.4 L1062.8,517.9 L1064.2,523.4 L1065.6,528.9 L1067.0,534.5 L1068.3,540.0 L1069.5,545.6 L1070.8,551.1 L1072.0,556.7 L1073.1,562.2 L1074.2,567.8 L1075.3,573.4 L1076.4,579.0 L1077.4,584.6 L1078.4,590.2 L1079.3,595.7 L1080.2,601.4 L1081.2,607.0 L1082.0,612.6 L1082.9,618.2 L1083.7,623.8 L1084.6,629.4 L1085.4,635.0 L1086.2,640.7 L1086.9,646.3 L1087.7,651.9 L1088.5,657.6 L1089.2,663.2 L1090.0,668.8 L1090.7,674.5 L1091.4,680.1 L1092.2,685.7 L1092.9,691.4 L1093.6,697.0 L1094.3,702.6 L1095.1,708.3 L1095.8,713.9 L1096.6,719.5 L1097.3,725.2 L1098.1,730.8 L1098.8,736.4 L1099.6,742.1 L1100.3,747.7 L1101.1,753.3 L1101.9,758.9 L1102.7,764.6 L1103.4,770.2 L1104.2,775.8 L1105.0,781.5 L1105.8,787.1 L1106.6,792.7 L1107.3,798.3 L1108.1,804.0 L1108.9,809.6 L1109.7,815.2 L1110.4,820.8 L1111.2,826.5 L1112.0,832.1 L1112.7,837.7 L1113.5,843.4 L1114.2,849.0 L1115.0,854.6 L1115.7,860.3 L1116.5,865.9 L1117.2,871.5 L1118.0,877.2 L1118.7,882.8 L1119.4,888.4 L1120.1,894.1 L1120.9,899.7 L1121.6,905.4 L1122.3,911.0 L1123.0,916.6 L1123.7,922.3 L1124.4,927.9 L1125.2,933.5 L1125.9,939.2 L1126.6,944.8 L1127.3,950.5 L1128.0,956.1 L1128.7,961.7 L1129.5,967.4 L1130.2,973.0 L1130.9,978.7 L1131.6,984.3 L1132.3,989.9 L1133.1,995.6 L1133.8,1001.2 L1134.5,1006.8 L1135.3,1012.5 L1136.0,1018.1 L1136.8,1023.7 L1137.5,1029.4 L1138.3,1035.0 L1139.1,1040.6 L1139.8,1046.3 L1140.6,1051.9 L1141.4,1057.5 L1142.2,1063.1 L1143.0,1068.8 L1143.8,1074.4 L1144.6,1080.0 L1145.4,1085.6 L1146.2,1091.3 L1147.1,1096.9 L1147.9,1102.5 L1148.8,1108.1 L1149.7,1113.7 L1150.5,1119.3 L1151.4,1124.9 L1152.3,1130.6 L1153.2,1136.2 L1154.1,1141.8 L1155.1,1147.4 L1156.0,1153.0 L1157.0,1158.6 L1157.9,1164.2 L1158.9,1169.8 L1159.9,1175.3 L1160.9,1180.9 L1161.9,1186.5 L1163.0,1192.1 L1164.0,1197.7 L1165.1,1203.3 L1166.1,1208.8 L1167.2,1214.4 L1168.3,1220.0 L1169.5,1225.6 L1170.6,1231.1 L1171.8,1236.7 L1172.9,1242.2 L1174.1,1247.8 L1175.3,1253.4 L1176.6,1258.9 L1177.8,1264.5 L1179.1,1270.0 L1180.4,1275.5 L1181.7,1281.1 L1183.0,1286.6 L1184.4,1292.1 L1185.8,1297.6 L1187.2,1303.1 L1188.8,1308.6 L1190.3,1314.1 L1192.0,1319.5 L1193.8,1324.9 L1195.6,1330.3 L1197.5,1335.6 L1199.6,1340.9 L1201.6,1346.2 L1203.8,1351.4 L1206.0,1356.7 L1208.2,1361.9 L1210.4,1367.2 L1212.7,1372.4 L1215.0,1377.6 L1217.4,1382.7 L1220.0,1387.7 L1222.7,1392.6 L1225.8,1397.3 L1229.1,1401.9 L1232.7,1406.2 L1236.7,1410.3 L1241.0,1414.0 L1245.5,1417.5 L1250.3,1420.7 L1255.3,1423.5 L1260.4,1426.0 L1265.7,1428.0 L1271.1,1429.6 L1276.6,1430.8 L1282.1,1431.5 L1287.7,1431.8 L1293.3,1431.7 L1299.0,1431.3 L1304.6,1430.6 L1310.2,1429.6 L1315.8,1428.3 L1321.4,1426.9 L1326.9,1425.3 L1332.3,1423.5 L1337.7,1421.6 L1343.0,1419.6 L1348.3,1417.4 L1353.5,1415.2 L1358.6,1412.8 L1363.7,1410.3 L1368.7,1407.8 L1373.8,1405.2 L1378.7,1402.4 L1383.7,1399.7 L1388.6,1396.8 L1393.5,1393.9 L1398.3,1390.9 L1403.2,1387.9 L1408.0,1384.9 L1412.8,1381.8 L1417.7,1378.7 L1422.4,1375.6 L1427.2,1372.4 L1431.8,1369.1 L1436.4,1365.7 L1440.8,1362.1 L1445.1,1358.4 L1449.1,1354.5 L1452.9,1350.4 L1456.6,1346.0 L1460.0,1341.5 L1463.3,1336.9 L1466.5,1332.1 L1469.7,1327.3 L1472.8,1322.5 L1475.9,1317.7 L1479.1,1312.9 L1482.3,1308.2 L1485.6,1303.6 L1489.0,1299.1 L1492.4,1294.6 L1495.8,1290.1 L1499.3,1285.6 L1502.8,1281.2 L1506.2,1276.7 L1509.7,1272.2 L1513.1,1267.6 L1516.4,1262.9 L1519.8,1258.2 L1523.2,1253.6 L1526.7,1249.1 L1530.5,1244.9 L1534.7,1241.2 L1539.2,1238.0 L1544.0,1235.0 L1548.9,1232.1 L1553.5,1228.9 L1557.9,1225.4 L1562.1,1221.5 L1566.0,1217.4 L1569.9,1213.2 L1573.8,1209.0 L1577.6,1204.8 L1581.5,1200.6 L1585.3,1196.4 L1589.1,1192.2 L1592.9,1188.0 L1596.7,1183.8 L1600.5,1179.6 L1604.3,1175.4 L1608.1,1171.2 L1611.8,1167.0 L1615.6,1162.8 L1619.3,1158.5 L1623.0,1154.3 L1626.7,1150.0 L1630.4,1145.7 L1634.0,1141.4 L1637.6,1137.1 L1641.2,1132.7 L1644.8,1128.3 L1648.4,1123.9 L1651.9,1119.5 L1655.4,1115.0 L1658.9,1110.5 L1662.4,1106.0 L1665.9,1101.5 L1669.4,1097.0 L1672.8,1092.4 L1676.3,1087.9 L1679.8,1083.4 L1683.2,1078.9 L1686.7,1074.4 L1690.2,1069.9 L1693.7,1065.5 L1697.3,1061.0 L1700.8,1056.6 L1704.4,1052.3 L1708.0,1047.9 L1711.6,1043.6 L1715.2,1039.3 L1719.0,1035.1 L1722.7,1030.9 L1726.5,1026.7 L1730.4,1022.6 L1734.3,1018.5 L1738.3,1014.4 L1742.4,1010.4 L1746.5,1006.4 L1750.8,1002.5 L1755.1,998.6 L1759.5,994.8 L1764.0,991.2 L1768.7,987.8 L1773.5,984.8 L1778.4,982.1 L1783.5,979.9 L1788.9,978.3 L1794.4,977.3 L1800.0,976.8 L1805.7,977.0 L1811.4,977.8 L1817.0,979.1 L1822.5,981.0 L1827.7,983.3 L1832.6,986.2 L1837.1,989.5 L1841.3,993.2 L1845.4,997.2 L1849.3,1001.3 L1853.3,1005.4 L1857.5,1009.5 L1861.7,1013.4 L1865.8,1017.5 L1869.8,1021.6 L1873.6,1025.8 L1877.1,1030.2 L1880.4,1034.8 L1883.5,1039.5 L1886.4,1044.3 L1889.2,1049.2 L1891.8,1054.2 L1894.3,1059.2 L1896.7,1064.3 L1899.1,1069.5 L1901.4,1074.7 L1903.7,1079.9 L1905.9,1085.2 L1908.3,1090.4 L1910.6,1095.6 L1913.0,1100.8 L1915.3,1105.9 L1917.7,1111.1 L1920.2,1116.3 L1922.6,1121.4 L1925.1,1126.6 L1927.6,1131.7 L1930.1,1136.8 L1932.6,1141.9 L1935.2,1147.0 L1937.7,1152.1 L1940.3,1157.2 L1942.9,1162.3 L1945.5,1167.3 L1948.1,1172.4 L1950.8,1177.4 L1953.4,1182.4 L1956.1,1187.5 L1958.7,1192.5 L1961.4,1197.5 L1964.1,1202.5 L1966.8,1207.5 L1969.5,1212.4 L1972.2,1217.4 L1974.9,1222.4 L1977.6,1227.3 L1980.4,1232.3 L1983.1,1237.2 L1985.9,1242.1 L1988.7,1247.0 L1991.4,1251.9 L1994.3,1256.8 L1997.1,1261.7 L1999.9,1266.6 L2002.8,1271.5 L2005.6,1276.4 L2008.5,1281.3 L2011.4,1286.1 L2014.4,1291.0 L2017.3,1295.8 L2020.2,1300.7 L2023.2,1305.5 L2026.2,1310.3 L2029.2,1315.2 L2032.3,1320.0 L2035.3,1324.8 L2038.4,1329.6 L2041.5,1334.4 L2044.7,1339.2 L2047.8,1344.0 L2051.0,1348.8 L2054.2,1353.6 L2057.5,1358.4 L2060.7,1363.1 L2064.1,1367.8 L2067.4,1372.4 L2070.9,1377.0 L2074.4,1381.6 L2077.9,1386.0 L2081.6,1390.4 L2085.3,1394.7 L2089.1,1398.9 L2092.9,1403.0 L2096.9,1407.0 L2101.0,1410.8 L2105.2,1414.5 L2109.4,1418.1 L2113.8,1421.5 L2118.4,1424.8 L2123.0,1427.9 L2127.7,1430.9 L2132.6,1433.7 L2137.5,1436.4 L2142.6,1438.9 L2147.7,1441.3 L2152.9,1443.6 L2158.2,1445.8 L2163.5,1447.8 L2168.9,1449.7 L2174.3,1451.5 L2179.8,1453.2 L2185.4,1454.8 L2191.0,1456.3 L2196.6,1457.7 L2202.2,1459.0 L2207.8,1460.2 L2213.5,1461.3 L2219.1,1462.4 L2224.8,1463.3 L2230.4,1464.3 L2236.1,1465.1 L2241.7,1465.9 L2247.3,1466.6 L2253.0,1467.3 L2258.6,1467.9 L2264.2,1468.4 L2269.8,1469.0 L2275.4,1469.4 L2281.0,1469.9 L2286.7,1470.3 L2292.3,1470.7 L2297.9,1471.0 L2303.5,1471.3 L2309.1,1471.6 L2314.8,1471.9 L2320.4,1472.2 L2326.0,1472.5 L2331.7,1472.8 L2337.3,1473.0 L2343.0,1473.3 L2348.6,1473.6 L2354.3,1473.9 L2360.0,1474.2 L2365.7,1474.5 L2371.4,1474.9 L2377.1,1475.2 L2382.8,1475.6 L2388.5,1476.1 L2394.3,1476.6 L2400.1,1477.1" stroke="#2e4088"/>
</g>
<g stroke="#080a05" stroke-width="5">
<line x1="356.2" y1="1489.0" x2="389.1" y2="1489.0"/>
<line x1="356.2" y1="1301.5" x2="389.1" y2="1301.5"/>
<line x1="356.2" y1="1114.0" x2="389.1" y2="1114.0"/>
<line x1="356.2" y1="926.5" x2="389.1" y2="926.5"/>
<line x1="356.2" y1="739.0" x2="389.1" y2="739.0"/>
<line x1="356.2" y1="551.5" x2="389.1" y2="551.5"/>
<line x1="356.2" y1="364.0" x2="389.1" y2="364.0"/>
<line x1="356.2" y1="176.5" x2="389.1" y2="176.5"/>
<line x1="370" y1="1395.2" x2="389.1" y2="1395.2"/>
<line x1="370" y1="1207.8" x2="389.1" y2="1207.8"/>
<line x1="370" y1="1020.2" x2="389.1" y2="1020.2"/>
<line x1="370" y1="832.7" x2="389.1" y2="832.7"/>
<line x1="370" y1="645.2" x2="389.1" y2="645.2"/>
<line x1="370" y1="457.8" x2="389.1" y2="457.8"/>
<line x1="370" y1="270.2" x2="389.1" y2="270.2"/>
<line x1="370" y1="82.7" x2="389.1" y2="82.7"/>
<line x1="615.5" y1="1518.55" x2="615.5" y2="1548.5"/>
<line x1="868.4" y1="1518.55" x2="868.4" y2="1548.5"/>
<line x1="1121.2" y1="1518.55" x2="1121.2" y2="1548.5"/>
<line x1="1374.1" y1="1518.55" x2="1374.1" y2="1548.5"/>
<line x1="1626.9" y1="1518.55" x2="1626.9" y2="1548.5"/>
<line x1="1879.8" y1="1518.55" x2="1879.8" y2="1548.5"/>
<line x1="2132.6" y1="1518.55" x2="2132.6" y2="1548.5"/>
<line x1="2385.4" y1="1518.55" x2="2385.4" y2="1548.5"/>
<line x1="489.1" y1="1518.55" x2="489.1" y2="1534.5"/>
<line x1="741.9" y1="1518.55" x2="741.9" y2="1534.5"/>
<line x1="994.8" y1="1518.55" x2="994.8" y2="1534.5"/>
<line x1="1247.6" y1="1518.55" x2="1247.6" y2="1534.5"/>
<line x1="1500.5" y1="1518.55" x2="1500.5" y2="1534.5"/>
<line x1="1753.3" y1="1518.55" x2="1753.3" y2="1534.5"/>
<line x1="2006.2" y1="1518.55" x2="2006.2" y2="1534.5"/>
<line x1="2259.0" y1="1518.55" x2="2259.0" y2="1534.5"/>
</g>
<g font-family="'Liberation Sans', Arial, sans-serif" font-size="64" fill="#080a05">
<text x="340" y="1506.5" text-anchor="end">0.00</text>
<text x="340" y="1319.0" text-anchor="end">0.05</text>
<text x="340" y="1131.5" text-anchor="end">0.10</text>
<text x="340" y="944.0" text-anchor="end">0.15</text>
<text x="340" y="756.5" text-anchor="end">0.20</text>
<text x="340" y="569.0" text-anchor="end">0.25</text>
<text x="340" y="381.5" text-anchor="end">0.30</text>
<text x="340" y="194.0" text-anchor="end">0.35</text>
<text x="614.5" y="1616.5" text-anchor="middle">400</text>
<text x="867.4" y="1616.5" text-anchor="middle">450</text>
<text x="1120.2" y="1616.5" text-anchor="middle">500</text>
<text x="1373.1" y="1616.5" text-anchor="middle">550</text>
<text x="1625.9" y="1616.5" text-anchor="middle">600</text>
<text x="1878.8" y="1616.5" text-anchor="middle">650</text>
<text x="2131.6" y="1616.5" text-anchor="middle">700</text>
<text x="2384.4" y="1616.5" text-anchor="middle">750</text>
</g>
<text transform="translate(100,813.5) rotate(-90)" text-anchor="middle" font-family="'Liberation Sans', Arial, sans-serif" font-size="77" fill="#080a05">Absorbance</text>
<text fill="#080a05"><tspan x="1279" y="1746.8" font-family="'Liberation Serif', 'DejaVu Serif', serif" font-size="78">λ</tspan><tspan x="1321" y="1746.8" font-family="'Liberation Sans', Arial, sans-serif" font-size="78"> </tspan><tspan x="1343.5" y="1746.8" font-family="'Liberation Sans', Arial, sans-serif" font-size="78">(nm)</tspan></text>
<rect x="1484" y="78" width="848" height="355" fill="#fefbfa"/>
<rect x="1482.9" y="76.3" width="851.3" height="2.6" fill="#c2c2be"/>
<rect x="1482.9" y="78.9" width="851.3" height="2.4" fill="#8c8c86"/>
<rect x="1482.9" y="429.9" width="851.3" height="2.6" fill="#c6c6c2"/>
<rect x="1482.9" y="432.5" width="851.3" height="2.6" fill="#82827c"/>
<rect x="1482.9" y="78.9" width="2.6" height="354.5" fill="#0a0c08"/>
<rect x="2331" y="78.9" width="3.2" height="354.5" fill="#1c201c"/>
<g stroke-width="14.5" stroke-linecap="butt">
<line x1="1525.8" y1="154" x2="1717.5" y2="154" stroke="#080a05"/>
<line x1="1525.8" y1="264.2" x2="1717.5" y2="264.2" stroke="#ff4422"/>
<line x1="1525.8" y1="374.5" x2="1717.5" y2="374.5" stroke="#2e4088"/>
</g>
<g font-family="'Liberation Sans', Arial, sans-serif" fill="#080a05">
<text><tspan x="1753.5" y="181.3" font-size="81">5</tspan><tspan x="1796.7" y="190.7" font-size="86" font-family="'Liberation Serif', 'DejaVu Serif', serif">×</tspan><tspan x="1843" y="181.3" font-size="81">10</tspan><tspan x="1932.5" y="144.9" font-size="54">-</tspan><tspan x="1950.2" y="141.0" font-size="46">5</tspan><tspan x="1975" y="181.3" font-size="81"> </tspan><tspan x="1997.5" y="181.3" font-size="81">mol.dm</tspan><tspan x="2261.5" y="144.9" font-size="54">-</tspan><tspan x="2279.5" y="141.0" font-size="46">3</tspan></text>
<text><tspan x="1753.5" y="291.3" font-size="81">1</tspan><tspan x="1796.7" y="300.7" font-size="86" font-family="'Liberation Serif', 'DejaVu Serif', serif">×</tspan><tspan x="1843" y="291.3" font-size="81">10</tspan><tspan x="1932.5" y="254.9" font-size="54">-</tspan><tspan x="1950.2" y="251.0" font-size="46">5</tspan><tspan x="1975" y="291.3" font-size="81"> </tspan><tspan x="1997.5" y="291.3" font-size="81">mol.dm</tspan><tspan x="2261.5" y="254.9" font-size="54">-</tspan><tspan x="2279.5" y="251.0" font-size="46">3</tspan></text>
<text><tspan x="1753.5" y="401.5" font-size="81">1</tspan><tspan x="1796.7" y="410.9" font-size="86" font-family="'Liberation Serif', 'DejaVu Serif', serif">×</tspan><tspan x="1843" y="401.5" font-size="81">10</tspan><tspan x="1932.5" y="365.1" font-size="54">-</tspan><tspan x="1950.2" y="361.2" font-size="46">6</tspan><tspan x="1975" y="401.5" font-size="81"> </tspan><tspan x="1997.5" y="401.5" font-size="81">mol.dm</tspan><tspan x="2261.5" y="365.1" font-size="54">-</tspan><tspan x="2279.5" y="361.2" font-size="46">3</tspan></text>
</g>
</svg>
</body>
</html>
